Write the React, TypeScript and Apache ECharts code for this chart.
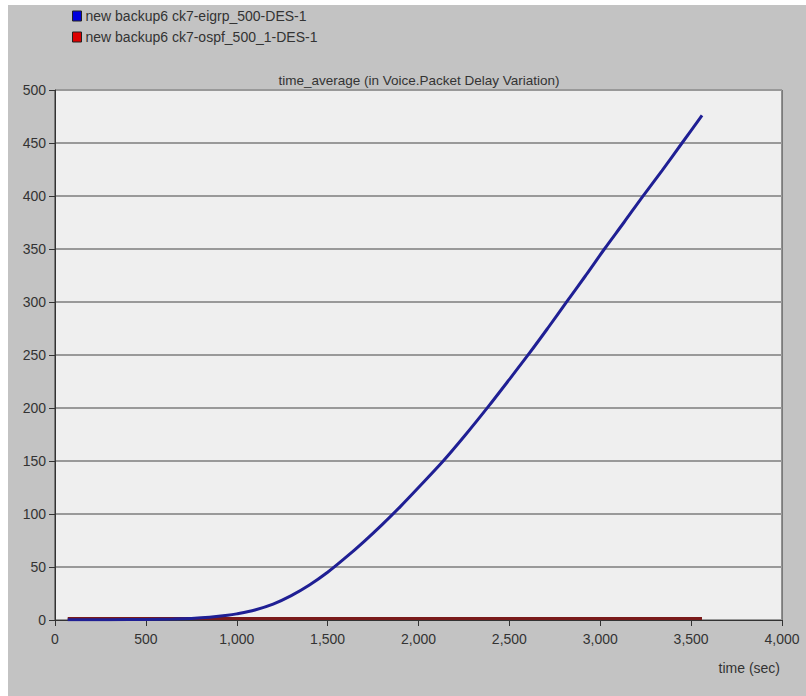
import React, { useEffect, useRef } from "react";
import * as echarts from "echarts";

const titleText = "time_average (in Voice.Packet Delay Variation)";
const xAxisName = "time (sec)";
const seriesNames = ["new backup6 ck7-eigrp_500-DES-1", "new backup6 ck7-ospf_500_1-DES-1"];

const eigrpTime = [70, 300, 500, 650, 750, 850, 950, 1000, 1100, 1200, 1300, 1400, 1500, 1600, 1700, 1800, 1900, 2000, 2136, 2260, 2387, 2500, 2607, 2710, 2810, 2920, 3023, 3130, 3231, 3340, 3450, 3560];
const eigrpValue = [0.3, 0.3, 0.5, 0.9, 1.5, 2.6, 4.4, 5.8, 9.5, 15, 23, 33, 45, 59, 74, 90, 107, 125, 150, 175, 202, 227, 251, 275, 299, 325, 350, 375, 399, 424, 450, 476];

const ospfTime = [70, 500, 1000, 1500, 2000, 2500, 3000, 3560];
const ospfValue = [1.5, 1.5, 1.5, 1.5, 1.5, 1.5, 1.5, 1.5];

const FONT = "'Liberation Sans', Arial, sans-serif";

export default function App() {
  const ref = useRef<HTMLDivElement>(null);
  useEffect(() => {
    if (!ref.current) return;
    const chart = echarts.init(ref.current, null, { renderer: "svg" });
    const eigrpData = eigrpTime.map((t, i) => [t, eigrpValue[i]]);
    const ospfData = ospfTime.map((t, i) => [t, ospfValue[i]]);
    chart.setOption({
      animation: false,
      backgroundColor: "#c3c3c3",
      textStyle: { fontFamily: FONT },
      legend: {
        orient: "vertical",
        left: 67,
        top: 4,
        itemWidth: 9,
        itemHeight: 10,
        itemGap: 7,
        icon: "rect",
        textStyle: { fontSize: 14, color: "#333", fontFamily: FONT, padding: [0, 0, 0, -1] },
        data: [
          { name: seriesNames[0], itemStyle: { color: "#0000dd", borderColor: "#222", borderWidth: 1 } },
          { name: seriesNames[1], itemStyle: { color: "#dd0000", borderColor: "#222", borderWidth: 1 } },
        ],
      },
      grid: {
        left: 55,
        right: 24,
        top: 90,
        bottom: 76,
        show: true,
        backgroundColor: "#efefef",
        borderColor: "#333",
        borderWidth: 1,
      },
      xAxis: {
        type: "value",
        min: 0,
        max: 4000,
        interval: 500,
        axisLine: { show: true, onZero: false, lineStyle: { color: "#333", width: 1 } },
        axisTick: { show: true, length: 6, lineStyle: { color: "#333" } },
        splitLine: { show: false },
        axisLabel: {
          fontSize: 14,
          color: "#333",
          margin: 12,
          fontFamily: FONT,
          formatter: (v: number) => v.toLocaleString("en-US"),
        },
      },
      yAxis: {
        type: "value",
        min: 0,
        max: 500,
        interval: 50,
        axisLine: { show: true, onZero: false, lineStyle: { color: "#333", width: 1 } },
        axisTick: { show: true, length: 6, lineStyle: { color: "#333" } },
        splitLine: { show: true, lineStyle: { color: "#999", width: 2 } },
        axisLabel: { fontSize: 14, color: "#333", margin: 9, fontFamily: FONT },
      },
      graphic: [
        { type: "rect", shape: { x: 0, y: 0, width: 8, height: 696 }, style: { fill: "#ffffff" } },
        { type: "rect", shape: { x: 0, y: 0, width: 806, height: 5 }, style: { fill: "#ffffff" } },
        {
          type: "text",
          x: 419,
          y: 80,
          style: {
            text: titleText,
            fontSize: 13.5,
            fontFamily: FONT,
            fill: "#333",
            textAlign: "center",
            textVerticalAlign: "middle",
          },
        },
        {
          type: "text",
          x: 780,
          y: 668,
          style: {
            text: xAxisName,
            fontSize: 14,
            fontFamily: FONT,
            fill: "#333",
            textAlign: "right",
            textVerticalAlign: "middle",
          },
        },
      ],
      series: [
        {
          name: seriesNames[1],
          type: "line",
          data: ospfData,
          showSymbol: false,
          symbol: "none",
          lineStyle: { color: "#7a1a1a", width: 3 },
          itemStyle: { color: "#dd0000" },
          z: 2,
        },
        {
          name: seriesNames[0],
          type: "line",
          data: eigrpData,
          showSymbol: false,
          symbol: "none",
          smooth: 0.3,
          lineStyle: { color: "#1f1f94", width: 3 },
          itemStyle: { color: "#0000dd" },
          z: 3,
        },
      ],
    });
    return () => chart.dispose();
  }, []);
  return (
    <div
      ref={ref}
      style={{ position: "absolute", left: 0, top: 0, width: 806, height: 696 }}
    />
  );
}
